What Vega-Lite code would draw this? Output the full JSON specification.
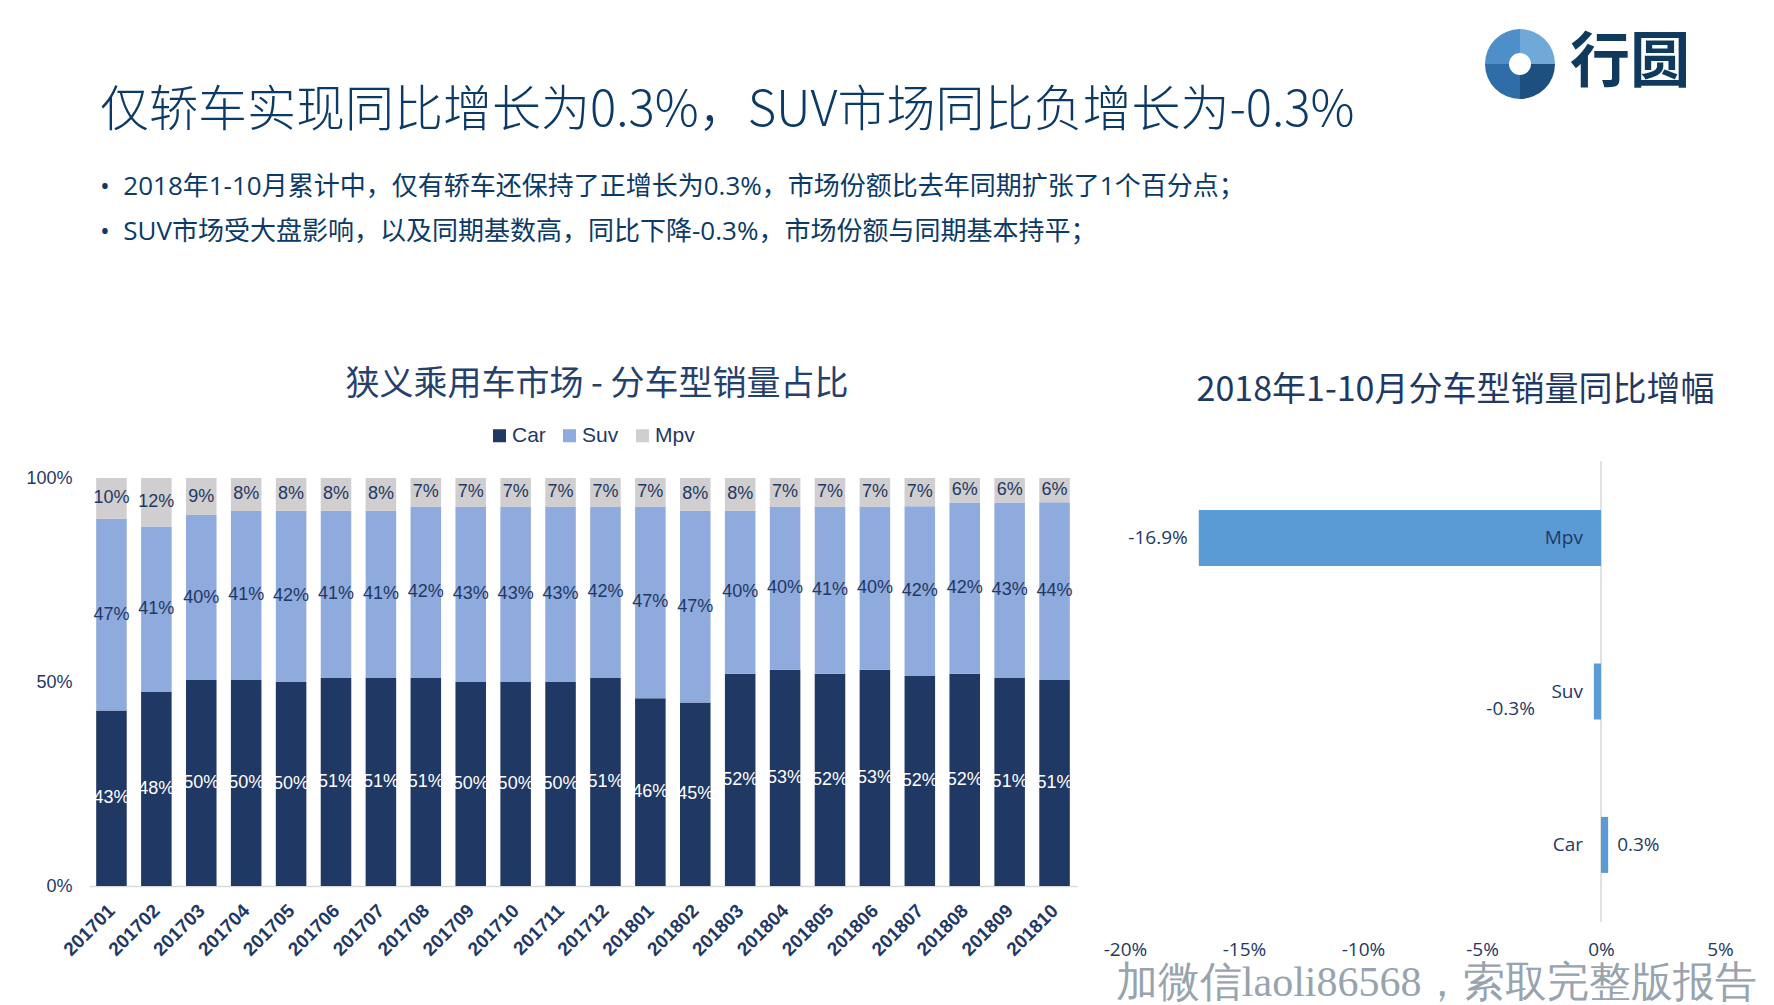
{
  "$schema": "https://vega.github.io/schema/vega-lite/v6.json",
  "padding": {"left": 25, "top": 29, "right": 0, "bottom": 0},
  "background": "white",
  "config": {
    "view": {"stroke": null},
    "font": "Liberation Sans",
    "locale": {"number": {"decimal": ".", "thousands": ",", "grouping": [3], "currency": ["$", ""], "minus": "-"}}
  },
  "columns": 2,
  "bounds": "flush",
  "spacing": {"row": 387, "column": 48},
  "resolve": {"scale": {"color": "independent"}, "legend": {"color": "independent"}},
  "concat": [
    {
      "width": 988,
      "height": 20,
      "data": {"values": []},
      "mark": "text",
      "title": {
        "text": "仅轿车实现同比增长为0.3%，SUV市场同比负增长为-0.3%",
        "subtitle": [
          "•\u00a0\u00a02018年1-10月累计中，仅有轿车还保持了正增长为0.3%，市场份额比去年同期扩张了1个百分点；",
          "•\u00a0\u00a0SUV市场受大盘影响，以及同期基数高，同比下降-0.3%，市场份额与同期基本持平；"
        ],
        "orient": "bottom",
        "anchor": "start",
        "frame": "group",
        "dx": 11,
        "offset": 13,
        "font": "Noto Sans CJK SC",
        "fontSize": 49,
        "fontWeight": 300,
        "color": "#0B3A66",
        "subtitleFont": "Open Sans, Noto Sans CJK SC",
        "subtitleFontSize": 26,
        "subtitleFontWeight": "normal",
        "subtitleColor": "#0B3A66",
        "subtitleLineHeight": 45,
        "subtitlePadding": 38
      }
    },
    {
      "width": 790,
      "height": 20,
      "layer": [
        {
          "data": {"values": [{"seg": "a", "v": 1}, {"seg": "b", "v": 1}, {"seg": "c", "v": 1}, {"seg": "d", "v": 1}]},
          "mark": {"type": "arc", "outerRadius": 35, "innerRadius": 11},
          "encoding": {
            "theta": {"field": "v", "type": "quantitative", "stack": true},
            "color": {"field": "seg", "type": "nominal", "scale": {"domain": ["a", "b", "c", "d"], "range": ["#6FA9D8", "#1D4F80", "#2F6DA8", "#4E8FC9"]}, "legend": null}
          }
        },
        {
          "data": {"values": [{"t": "行圆"}]},
          "mark": {"type": "text", "align": "left", "baseline": "middle", "dx": 50, "font": "Noto Sans CJK SC", "fontSize": 60, "fontWeight": "bold", "color": "#0F3A5E"},
          "encoding": {"text": {"field": "t"}}
        }
      ]
    },
    {
      "width": 988,
      "height": 425,
      "data": {"values": [
        {"m": "201701", "Car": 0.43, "Suv": 0.47, "Mpv": 0.10},
        {"m": "201702", "Car": 0.48, "Suv": 0.41, "Mpv": 0.12},
        {"m": "201703", "Car": 0.50, "Suv": 0.40, "Mpv": 0.09},
        {"m": "201704", "Car": 0.50, "Suv": 0.41, "Mpv": 0.08},
        {"m": "201705", "Car": 0.50, "Suv": 0.42, "Mpv": 0.08},
        {"m": "201706", "Car": 0.51, "Suv": 0.41, "Mpv": 0.08},
        {"m": "201707", "Car": 0.51, "Suv": 0.41, "Mpv": 0.08},
        {"m": "201708", "Car": 0.51, "Suv": 0.42, "Mpv": 0.07},
        {"m": "201709", "Car": 0.50, "Suv": 0.43, "Mpv": 0.07},
        {"m": "201710", "Car": 0.50, "Suv": 0.43, "Mpv": 0.07},
        {"m": "201711", "Car": 0.50, "Suv": 0.43, "Mpv": 0.07},
        {"m": "201712", "Car": 0.51, "Suv": 0.42, "Mpv": 0.07},
        {"m": "201801", "Car": 0.46, "Suv": 0.47, "Mpv": 0.07},
        {"m": "201802", "Car": 0.45, "Suv": 0.47, "Mpv": 0.08},
        {"m": "201803", "Car": 0.52, "Suv": 0.40, "Mpv": 0.08},
        {"m": "201804", "Car": 0.53, "Suv": 0.40, "Mpv": 0.07},
        {"m": "201805", "Car": 0.52, "Suv": 0.41, "Mpv": 0.07},
        {"m": "201806", "Car": 0.53, "Suv": 0.40, "Mpv": 0.07},
        {"m": "201807", "Car": 0.52, "Suv": 0.42, "Mpv": 0.07},
        {"m": "201808", "Car": 0.52, "Suv": 0.42, "Mpv": 0.06},
        {"m": "201809", "Car": 0.51, "Suv": 0.43, "Mpv": 0.06},
        {"m": "201810", "Car": 0.51, "Suv": 0.44, "Mpv": 0.06}
      ]},
      "transform": [
        {"fold": ["Car", "Suv", "Mpv"], "as": ["type", "v"]},
        {"window": [{"op": "row_number", "as": "k"}], "groupby": ["m"]}
      ],
      "title": {
        "text": "狭义乘用车市场 - 分车型销量占比",
        "font": "Noto Sans CJK SC",
        "fontSize": 34,
        "fontWeight": "normal",
        "color": "#26406E",
        "anchor": "middle",
        "frame": "group",
        "dx": 14,
        "offset": 23
      },
      "encoding": {
        "x": {
          "field": "m",
          "type": "nominal",
          "sort": null,
          "scale": {"paddingInner": 0.32, "paddingOuter": 0.16},
          "axis": {
            "title": null,
            "labelAngle": -45,
            "labelFont": "Liberation Sans",
            "labelFontSize": 19,
            "labelFontWeight": "bold",
            "labelColor": "#1F3864",
            "labelPadding": 15,
            "labelOffset": -6,
            "ticks": false,
            "domainColor": "#D9D9D9",
            "domainWidth": 1.5
          }
        },
        "order": {"field": "k", "type": "quantitative"}
      },
      "layer": [
        {
          "mark": {"type": "bar"},
          "encoding": {
            "y": {
              "field": "v",
              "type": "quantitative",
              "stack": "normalize",
              "scale": {"domain": [0, 1.0417], "nice": false},
              "axis": {"values": [0, 0.5, 1], "format": ".0%", "title": null, "domain": false, "ticks": false, "grid": false, "labelFont": "Liberation Sans", "labelFontSize": 18, "labelColor": "#1F3864", "labelPadding": 17}
            },
            "color": {
              "field": "type",
              "type": "nominal",
              "scale": {"domain": ["Car", "Suv", "Mpv"], "range": ["#203864", "#8FAADC", "#D0CECE"]},
              "legend": {
                "orient": "none",
                "legendX": 400,
                "legendY": -36,
                "direction": "horizontal",
                "title": null,
                "symbolType": "square",
                "symbolSize": 169,
                "symbolStrokeWidth": 0,
                "labelFont": "Liberation Sans",
                "labelFontSize": 21,
                "labelColor": "#1F3864",
                "labelOffset": 2,
                "columnPadding": 13,
                "padding": 0
              }
            }
          }
        },
        {
          "mark": {"type": "text", "font": "Liberation Sans", "fontSize": 18},
          "encoding": {
            "y": {
              "field": "v",
              "type": "quantitative",
              "stack": "normalize",
              "bandPosition": 0.5,
              "scale": {"domain": [0, 1.0417], "nice": false},
              "axis": {"values": [0, 0.5, 1], "format": ".0%", "title": null, "domain": false, "ticks": false, "grid": false, "labelFont": "Liberation Sans", "labelFontSize": 18, "labelColor": "#1F3864", "labelPadding": 17}
            },
            "detail": {"field": "type"},
            "text": {"field": "v", "type": "quantitative", "format": ".0%"},
            "color": {"condition": {"test": "datum.type === 'Car'", "value": "#FFFFFF"}, "value": "#1F3864"}
          }
        }
      ]
    },
    {
      "width": 595,
      "height": 461,
      "data": {"values": [
        {"type": "Mpv", "g": -0.169},
        {"type": "Suv", "g": -0.003},
        {"type": "Car", "g": 0.003}
      ]},
      "title": {
        "text": "2018年1-10月分车型销量同比增幅",
        "font": "Noto Sans CJK SC",
        "fontSize": 34,
        "fontWeight": "normal",
        "color": "#1F3864",
        "anchor": "middle",
        "frame": "group",
        "dx": 33,
        "offset": 52
      },
      "layer": [
        {
          "data": {"values": [{"z": 0}]},
          "mark": {"type": "rule", "color": "#D9D9D9", "strokeWidth": 1.5},
          "encoding": {"x": {"field": "z", "type": "quantitative"}}
        },
        {
          "mark": {"type": "bar", "color": "#5B9BD5"},
          "encoding": {
            "y": {"field": "type", "type": "nominal", "sort": ["Mpv", "Suv", "Car"], "scale": {"paddingInner": 0.635, "paddingOuter": 0.32}, "axis": null},
            "x": {
              "field": "g",
              "type": "quantitative",
              "scale": {"domain": [-0.2, 0.05], "nice": false},
              "axis": {
                "values": [-0.2, -0.15, -0.1, -0.05, 0, 0.05],
                "format": ".0%",
                "title": "加微信laoli86568，索取完整版报告",
                "grid": false,
                "domain": false,
                "ticks": false,
                "labelFlush": false,
                "labelFont": "Open Sans",
                "labelFontSize": 19,
                "labelColor": "#1F3864",
                "labelPadding": 18,
                "titleFont": "Liberation Serif",
                "titleFontSize": 42,
                "titleFontWeight": "normal",
                "titleColor": "#97A3AE",
                "titleX": 632,
                "titleY": 60,
                "titleAlign": "right",
                "titleBaseline": "middle",
                "titleAngle": 0
              }
            }
          }
        },
        {
          "mark": {"type": "text", "align": "right", "dx": -18, "font": "Open Sans", "fontSize": 19, "color": "#1F3864"},
          "encoding": {
            "y": {"field": "type", "type": "nominal", "sort": ["Mpv", "Suv", "Car"]},
            "x": {"datum": 0, "type": "quantitative"},
            "text": {"field": "type"}
          }
        },
        {
          "transform": [{"filter": "datum.type === 'Mpv'"}],
          "mark": {"type": "text", "align": "right", "dx": -11, "font": "Open Sans", "fontSize": 19, "color": "#1F3864"},
          "encoding": {
            "y": {"field": "type", "type": "nominal", "sort": ["Mpv", "Suv", "Car"]},
            "x": {"field": "g", "type": "quantitative"},
            "text": {"field": "g", "type": "quantitative", "format": ".1%"}
          }
        },
        {
          "transform": [{"filter": "datum.type === 'Car'"}],
          "mark": {"type": "text", "align": "left", "dx": 9, "font": "Open Sans", "fontSize": 19, "color": "#1F3864"},
          "encoding": {
            "y": {"field": "type", "type": "nominal", "sort": ["Mpv", "Suv", "Car"]},
            "x": {"field": "g", "type": "quantitative"},
            "text": {"field": "g", "type": "quantitative", "format": ".1%"}
          }
        },
        {
          "transform": [{"filter": "datum.type === 'Suv'"}],
          "mark": {"type": "text", "align": "right", "dx": -59, "dy": 17, "font": "Open Sans", "fontSize": 19, "color": "#1F3864"},
          "encoding": {
            "y": {"field": "type", "type": "nominal", "sort": ["Mpv", "Suv", "Car"]},
            "x": {"field": "g", "type": "quantitative"},
            "text": {"field": "g", "type": "quantitative", "format": ".1%"}
          }
        }
      ]
    }
  ]
}
